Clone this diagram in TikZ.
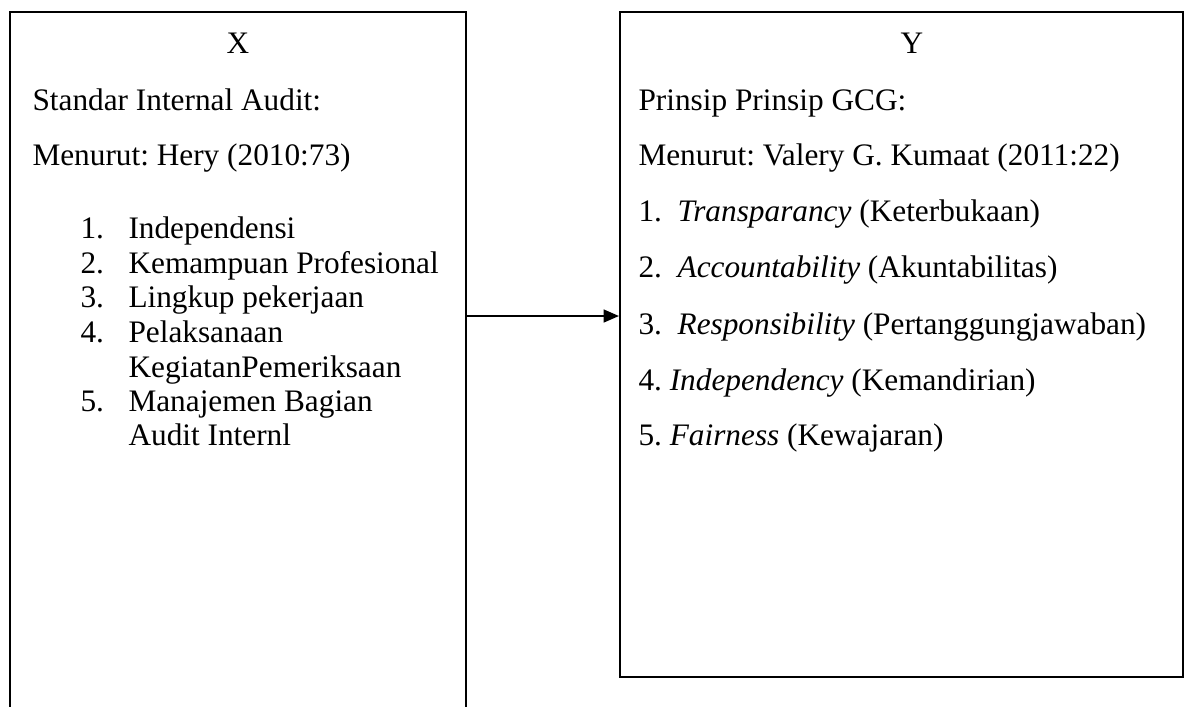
\documentclass[tikz,border=0pt]{standalone}
\usepackage{fontspec}
\setmainfont{Liberation Serif}
\usetikzlibrary{arrows.meta,positioning,calc,fit}
\frenchspacing
\tikzset{
  pbox/.style={draw, line width=0.8pt, inner sep=0pt},
  txt/.style={anchor=mid west, inner sep=0pt, font=\fontsize{12.3}{14}\selectfont},
  ttl/.style={txt, anchor=mid},
  flow/.style={-{Triangle[length=6pt, width=5pt]}, line width=0.8pt},
}
\begin{document}
\begin{tikzpicture}[x=0.393pt, y=-0.393pt]
    \useasboundingbox (0,0) rectangle (1196,706);
    % the two boxes (left one runs past the bottom edge)
    \node[pbox, fit={(10,12) (466,740)}] (boxX) {};
    \node[pbox, fit={(620,12) (1183,677)}] (boxY) {};
    % left box text
    \node[ttl] (xT) at (238,48) {X};
    \node[txt] (xS) at (32,105) {Standar Internal Audit:};
    \node[txt] (xM) at (32,160) {Menurut: Hery (2010:73)};
    \foreach \i/\t/\y in {1/Independensi/233, 2/Kemampuan Profesional/268,
        3/Lingkup pekerjaan/302, 4/Pelaksanaan/337, 5/Manajemen Bagian/406}{
      \node[txt] (xn\i) at (80,\y) {\i.};
      \node[txt] (xi\i) at (128,\y) {\t};
    }
    \node[txt] (xi4b) at (128,372) {KegiatanPemeriksaan};
    \node[txt] (xi5b) at (128,440) {Audit Internl};
    % right box text
    \node[ttl] (yT) at (912,48) {Y};
    \node[txt] (yS) at (638,105) {Prinsip Prinsip GCG:};
    \node[txt] (yM) at (638,160) {Menurut: Valery G. Kumaat (2011:22)};
    \node[txt] (y1) at (638,216) {1.~~\textit{Transparancy} (Keterbukaan)};
    \node[txt] (y2) at (638,272) {2.~~\textit{Accountability} (Akuntabilitas)};
    \node[txt] (y3) at (638,329) {3.~~\textit{Responsibility} (Pertanggungjawaban)};
    \node[txt] (y4) at (638,385) {4. \textit{Independency} (Kemandirian)};
    \node[txt] (y5) at (638,440) {5. \textit{Fairness} (Kewajaran)};
    % X -> Y
    \coordinate (arr) at (0,316);
    \draw[flow] (boxX.east |- arr) -- (boxY.west |- arr);
\end{tikzpicture}
\end{document}
